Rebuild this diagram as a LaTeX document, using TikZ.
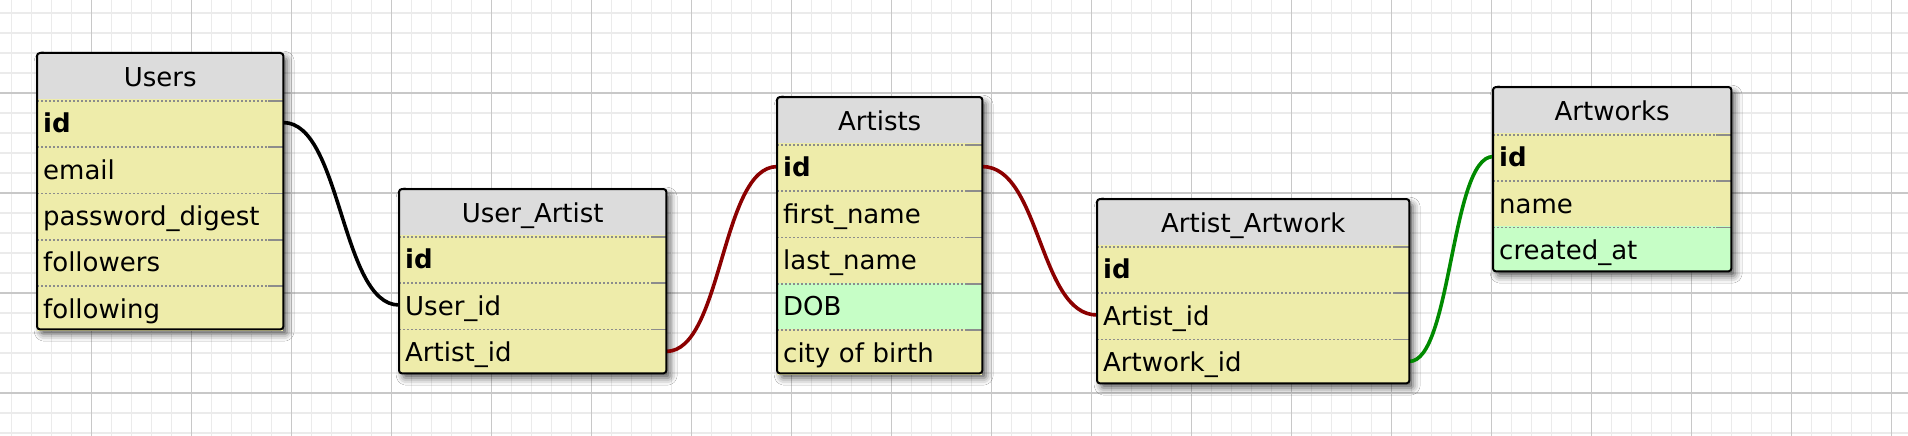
\documentclass[tikz,border=0pt]{standalone}
\usepackage{fontspec}
\setmainfont{DejaVu Sans}
\usepackage{tikz}
\usetikzlibrary{positioning}
\usetikzlibrary{shadows.blur}
\definecolor{headgray}{HTML}{DCDCDC}
\definecolor{rowyellow}{HTML}{EEECAA}
\definecolor{rowgreen}{HTML}{C6FEC6}
\definecolor{linkred}{HTML}{8B0000}
\definecolor{linkgreen}{HTML}{008A00}
\definecolor{minorline}{HTML}{EBEBEB}
\definecolor{majorline}{HTML}{C8C8C8}
\definecolor{sepgray}{HTML}{8C8C8C}

\begin{document}
\begin{tikzpicture}[x=1pt,y=-1pt]
        \tikzset{table/.style = {anchor=north west, fill=rowyellow, rounded corners=3pt, inner sep=0pt,
                 blur shadow={shadow xshift=4pt, shadow yshift=-5pt, shadow blur radius=7pt, shadow opacity=65}}}
        \tikzset{border/.style = {draw=black, line width=2pt, rounded corners=3pt}}
        \tikzset{cell/.style = {inner xsep=6pt, inner ysep=0pt, text height=33pt, text depth=13pt,
                 font=\fontsize{26pt}{30pt}\selectfont}}
        \tikzset{head/.style = {cell, anchor=north west, fill=headgray, align=center}}
        \tikzset{dotline/.style = {draw=sepgray, line width=1.8pt, dash pattern=on 2pt off 2pt}}
        \tikzset{field/.style = {cell, below=0pt of #1, fill=rowyellow, align=left,
                 path picture={
                   \draw[dotline] ([yshift=-1pt]path picture bounding box.north west)
                     -- ([xshift=-15pt,yshift=-1pt]path picture bounding box.north east);
                   \draw[dotline, solid] ([xshift=-15pt,yshift=-1pt]path picture bounding box.north east)
                     -- ([yshift=-1pt]path picture bounding box.north east);}}}
        \tikzset{link/.style = {line width=3.6pt, to path={.. controls +(#1,0) and +(-#1,0) .. (\tikztotarget)}}}
        \tikzset{minorgrid/.style = {draw=minorline, line width=1.8pt}}
        \tikzset{majorgrid/.style = {draw=majorline, line width=1.8pt}}

        \useasboundingbox (0,0) rectangle (1908,436);

        % background grid
        \fill[white] (0,0) rectangle (1908,436);
        \begin{scope}
          \clip (0,0) rectangle (1908,436);
          \draw[minorgrid, shift={(11.5,13)}] (-20,-20) grid[step=20pt] (1920,460);
          \draw[majorgrid, shift={(91.5,93)}] (-100,-100) grid[step=100pt] (1900,400);
        \end{scope}

        % Users
        \node[table, minimum width=246pt, minimum height=276pt] (users) at (37,53) {};
        \begin{scope}[every node/.append style={text width=234pt}]
          \node[head] (uh) at (users.north west) {Users};
          \node[field=uh] (u-id) {\textbf{id}};
          \node[field=u-id] (u-email) {email};
          \node[field=u-email] (u-pass) {password\_digest};
          \node[field=u-pass] (u-fers) {followers};
          \node[field=u-fers] (u-fing) {following};
        \end{scope}

        % User_Artist
        \node[table, minimum width=267pt, minimum height=184pt] (userartist) at (399,189) {};
        \begin{scope}[every node/.append style={text width=255pt}]
          \node[head] (uah) at (userartist.north west) {User\_Artist};
          \node[field=uah] (ua-id) {\textbf{id}};
          \node[field=ua-id] (ua-user) {User\_id};
          \node[field=ua-user] (ua-artist) {Artist\_id};
        \end{scope}

        % Artists
        \node[table, minimum width=205pt, minimum height=276pt] (artists) at (777,97) {};
        \begin{scope}[every node/.append style={text width=193pt}]
          \node[head] (ah) at (artists.north west) {Artists};
          \node[field=ah] (a-id) {\textbf{id}};
          \node[field=a-id] (a-first) {first\_name};
          \node[field=a-first] (a-last) {last\_name};
          \node[field=a-last, fill=rowgreen] (a-dob) {DOB};
          \node[field=a-dob] (a-city) {city of birth};
        \end{scope}

        % Artist_Artwork
        \node[table, minimum width=312pt, minimum height=184pt] (artistartwork) at (1097,199) {};
        \begin{scope}[every node/.append style={text width=300pt}]
          \node[head] (aah) at (artistartwork.north west) {Artist\_Artwork};
          \node[field=aah] (aa-id) {\textbf{id}};
          \node[field=aa-id] (aa-artist) {Artist\_id};
          \node[field=aa-artist] (aa-artwork) {Artwork\_id};
        \end{scope}

        % Artworks
        \node[table, minimum width=238pt, minimum height=184pt] (artworks) at (1493,87) {};
        \begin{scope}[every node/.append style={text width=226pt}]
          \node[head] (wh) at (artworks.north west) {Artworks};
          \node[field=wh] (w-id) {\textbf{id}};
          \node[field=w-id] (w-name) {name};
          \node[field=w-name, fill=rowgreen] (w-created) {created\_at};
        \end{scope}

        %links
        \draw[link=58, black] (u-id.east) to (ua-user.west);
        \draw[link=56, linkred] (ua-artist.east) to (a-id.west);
        \draw[link=58, linkred] (a-id.east) to (aa-artist.west);
        \draw[link=42, linkgreen] (aa-artwork.east) to (w-id.west);

        % table borders
        \draw[border] (users.north west) rectangle (users.south east);
        \draw[border] (userartist.north west) rectangle (userartist.south east);
        \draw[border] (artists.north west) rectangle (artists.south east);
        \draw[border] (artistartwork.north west) rectangle (artistartwork.south east);
        \draw[border] (artworks.north west) rectangle (artworks.south east);
\end{tikzpicture}
\end{document}
